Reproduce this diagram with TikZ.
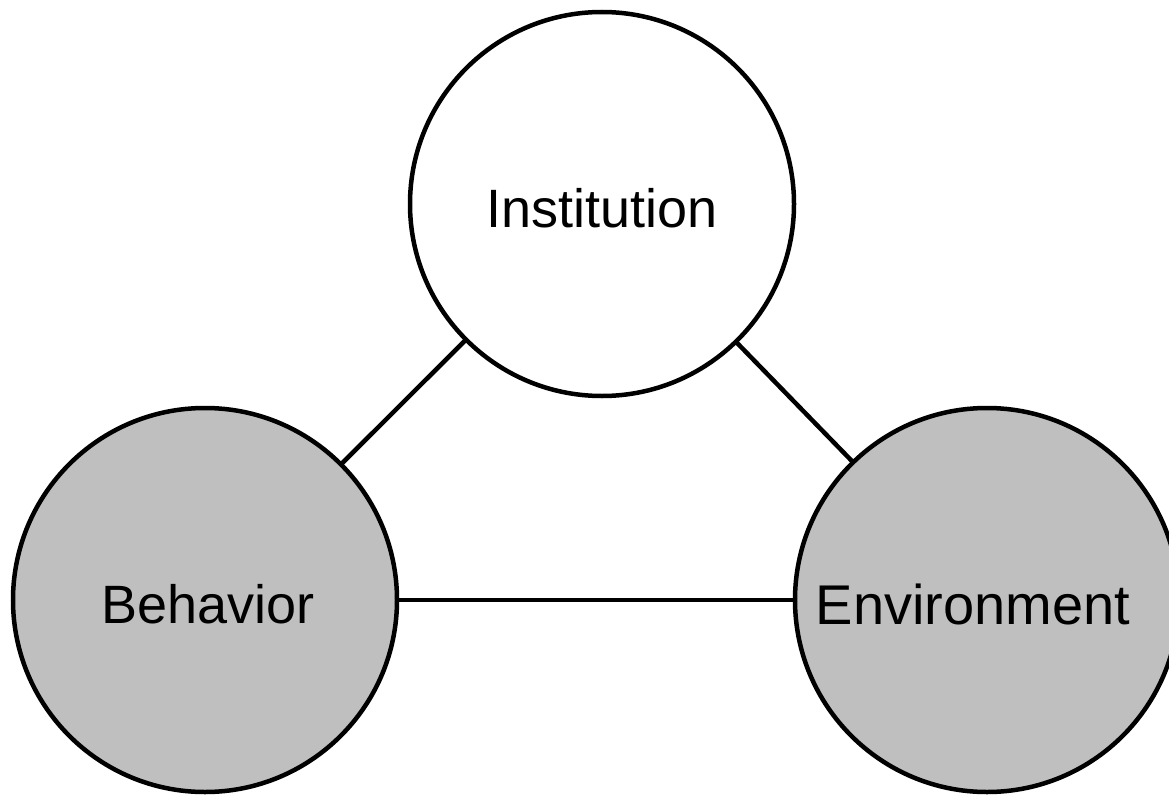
\documentclass[tikz,border=0pt]{standalone}
\usepackage{fontspec}
\setmainfont{Liberation Sans}
\definecolor{circgray}{RGB}{191,191,191}
\begin{document}
\begin{tikzpicture}[x=1pt,y=-1pt,
  ring/.style={circle,draw=black,line width=4.5pt,minimum size=384pt,inner sep=0pt},
  lbl/.style={font=\fontsize{54}{60}\selectfont,inner sep=0pt},
  link/.style={line width=4.5pt}]
\useasboundingbox (0,0) rectangle (1169,797);
\clip (0,0) rectangle (1169,797);
\coordinate (ci) at (602,204);
\coordinate (cb) at (205,600);
\coordinate (ce) at (987,600);
\draw[link] (ci) -- (cb);
\draw[link] (ci) -- (ce);
\draw[link] (cb) -- (ce);
\node[ring,fill=white] (inst) at (ci) {};
\node[ring,fill=circgray] (beh) at (cb) {};
\node[ring,fill=circgray] (env) at (ce) {};
\node[lbl] (tinst) at (602,208) {Institution};
\node[lbl] (tbeh) at (208,604) {Behavior};
\node[lbl,font=\fontsize{56}{62}\selectfont] (tenv) at (973,604) {Environment};
\end{tikzpicture}
\end{document}
